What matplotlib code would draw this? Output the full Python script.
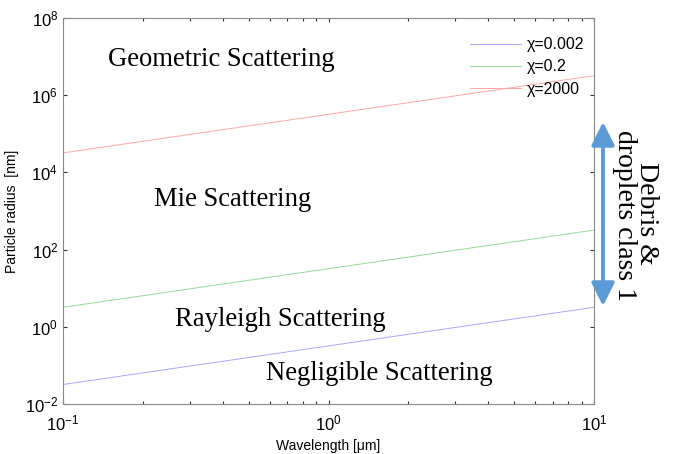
import matplotlib
matplotlib.use("Agg")
import matplotlib.pyplot as plt
from matplotlib.patches import FancyArrowPatch

plt.rcParams['font.family'] = ['Liberation Sans', 'DejaVu Sans']
plt.rcParams['mathtext.default'] = 'regular'

wavelength = [0.1, 10]
r_chi_0002 = [0.032, 3.2]
r_chi_02 = [3.2, 320]
r_chi_2000 = [3.2e4, 3.2e6]
labels = ['χ=0.002', 'χ=0.2', 'χ=2000']
colors = ['#a8a8ff', '#98d898', '#ffa8a8']

fig = plt.figure(figsize=(6.73, 4.54), dpi=100)
ax = fig.add_axes([63/673, 1-404/454, (594-63)/673, (404-18)/454])

for y, lab, c in zip([r_chi_0002, r_chi_02, r_chi_2000], labels, colors):
    ax.plot(wavelength, y, color=c, lw=0.7, label=lab)

ax.set_xscale('log')
ax.set_yscale('log')
ax.set_xlim(0.1, 10)
ax.set_ylim(1e-2, 1e8)
ax.set_yticks([1e-2, 1e0, 1e2, 1e4, 1e6, 1e8])
ax.set_yticklabels([r'$10^{-2}$', r'$10^{0}$', r'$10^{2}$', r'$10^{4}$', r'$10^{6}$', r'$10^{8}$'])
ax.yaxis.set_minor_locator(matplotlib.ticker.NullLocator())
ax.set_xticks([0.1, 1, 10])
ax.set_xticklabels([r'$10^{-1}$', r'$10^{0}$', r'$10^{1}$'])
ax.tick_params(which='both', direction='in', top=True, right=True, labelsize=12,
               color='#333333', length=3, width=0.8)
ax.tick_params(which='minor', length=2)
ax.tick_params(axis='x', pad=7)
for s in ax.spines.values():
    s.set_color('#888888')
    s.set_linewidth(0.8)

ax.set_xlabel('Wavelength [μm]', fontsize=10)
ax.set_ylabel('Particle radius  [nm]', fontsize=10)

leg = ax.legend(loc='upper right', frameon=False, fontsize=11.5, handlelength=3.2,
                handletextpad=0.35, bbox_to_anchor=(1.0, 0.975), borderaxespad=0.2,
                labelspacing=0.45)

serif = ['Liberation Serif', 'DejaVu Serif']
fs = 19.2
fig.text(221/673, 1-60/454, 'Geometric Scattering', family=serif, fontsize=fs, ha='center', va='center')
fig.text(233/673, 1-200/454, 'Mie Scattering', family=serif, fontsize=fs, ha='center', va='center')
fig.text(280/673, 1-319/454, 'Rayleigh Scattering', family=serif, fontsize=fs, ha='center', va='center')
fig.text(379/673, 1-374/454, 'Negligible Scattering', family=serif, fontsize=fs, ha='center', va='center')
fig.text(647/673, 1-213/454, 'Debris &', family=serif, fontsize=20, ha='center', va='center', rotation=270)
fig.text(624/673, 1-215/454, 'droplets class 1', family=serif, fontsize=20, ha='center', va='center', rotation=270)

arr = FancyArrowPatch((603/673, 1-122/454), (603/673, 1-306/454), transform=fig.transFigure,
                      arrowstyle='<|-|>,head_length=1.0,head_width=0.5', mutation_scale=14,
                      color='#5b9bd5', lw=2.8, shrinkA=0, shrinkB=0)
fig.patches.append(arr)

fig.savefig('out.png', dpi=100)
